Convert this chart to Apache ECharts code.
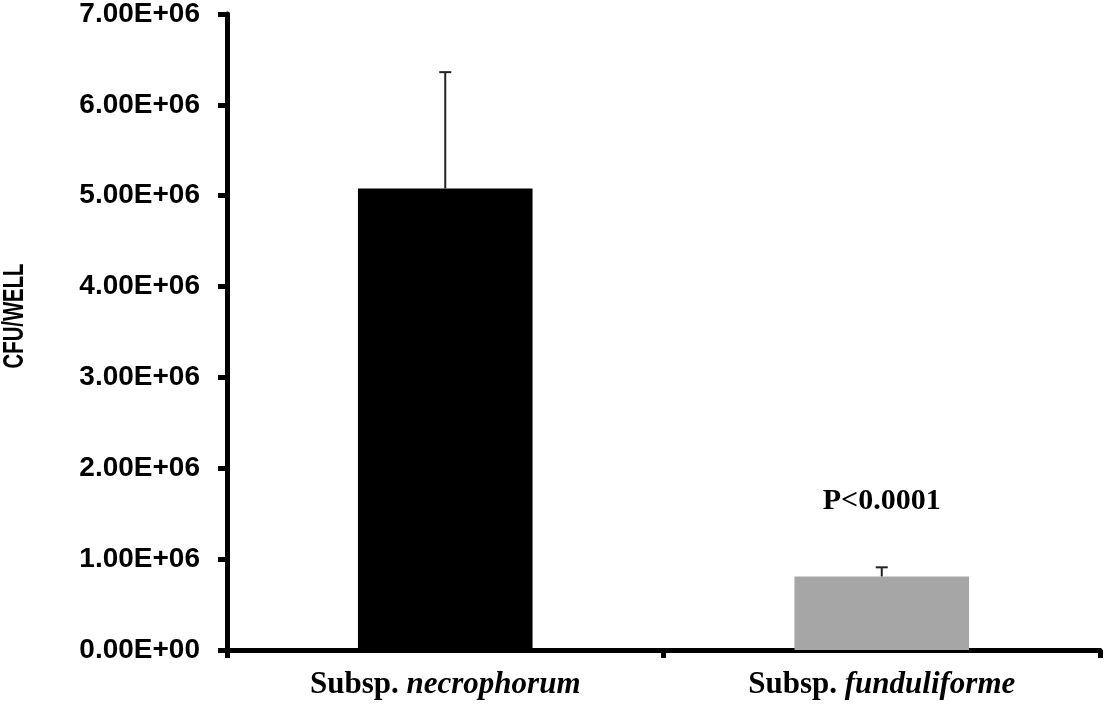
<!DOCTYPE html>
<html>
<head>
<meta charset="utf-8">
<script src="https://cdn.jsdelivr.net/npm/echarts@6/dist/echarts.min.js"></script>
<style>
html,body{margin:0;padding:0;background:#fff;}
#chart{width:1106px;height:708px;}
</style>
</head>
<body>
<div id="chart"></div>
<script>
var categories = ['necrophorum', 'funduliforme'];
var means = [5.08e6, 0.81e6];
var errors = [1.28e6, 0.10e6];
var barColors = ['#000000', '#a6a6a6'];
var pLabel = 'P<0.0001';
var yAxisTitle = 'CFU/WELL';
var yTickLabels = ['0.00E+00','1.00E+06','2.00E+06','3.00E+06','4.00E+06','5.00E+06','6.00E+06','7.00E+06'];

var chart = echarts.init(document.getElementById('chart'), null, {renderer: 'canvas'});

var serif = '"Liberation Serif", "Times New Roman", serif';
var sans = '"Liberation Sans", Arial, sans-serif';

var option = {
  animation: false,
  backgroundColor: '#ffffff',
  grid: {left: 227, right: 6, top: 13, bottom: 58, containLabel: false},
  graphic: [
    {
      type: 'text',
      x: 15, y: 316,
      rotation: Math.PI / 2,
      scaleX: 0.7,
      style: {
        text: yAxisTitle,
        font: 'bold 29px "Liberation Sans", Arial, sans-serif',
        fill: '#000',
        textAlign: 'center',
        textVerticalAlign: 'middle'
      }
    }
  ],
  xAxis: {
    type: 'category',
    data: categories,
    boundaryGap: true,
    axisLine: {show: true, lineStyle: {color: '#000', width: 5}},
    axisTick: {show: true, alignWithLabel: false, length: 8, lineStyle: {color: '#000', width: 5}},
    axisLabel: {
      margin: 19,
      formatter: function (v) { return '{b|Subsp. }{i|' + v + '}'; },
      rich: {
        b: {fontFamily: serif, fontWeight: 'bold', fontSize: 31, color: '#000'},
        i: {fontFamily: serif, fontWeight: 'bold', fontStyle: 'italic', fontSize: 31, color: '#000'}
      }
    },
    splitLine: {show: false}
  },
  yAxis: {
    type: 'value',
    min: 0,
    max: 7e6,
    interval: 1e6,
    axisLine: {show: true, lineStyle: {color: '#000', width: 5}},
    axisTick: {show: true, length: 9, lineStyle: {color: '#000', width: 5}},
    axisLabel: {
      margin: 27,
      fontFamily: sans, fontWeight: 'bold', fontSize: 28, color: '#000',
      formatter: function (v) { return yTickLabels[Math.round(v / 1e6)]; }
    },
    splitLine: {show: false}
  },
  series: [
    {
      type: 'bar',
      barWidth: '40%',
      data: means.map(function (v, i) {
        var item = {value: v, itemStyle: {color: barColors[i]}};
        if (i === 1) {
          item.label = {
            show: true, position: 'top', distance: 60,
            formatter: pLabel,
            fontFamily: serif, fontWeight: 'bold', fontSize: 30, color: '#000'
          };
        }
        return item;
      }),
      z: 2
    },
    {
      type: 'custom',
      z: 3,
      data: means.map(function (v, i) { return [i, v, v + errors[i]]; }),
      renderItem: function (params, api) {
        var x = api.value(0);
        var p0 = api.coord([x, api.value(1)]);
        var p1 = api.coord([x, api.value(2)]);
        var half = 6;
        return {
          type: 'group',
          children: [
            {type: 'line', shape: {x1: p0[0], y1: p0[1], x2: p1[0], y2: p1[1]}, style: {stroke: '#222', lineWidth: 2}},
            {type: 'line', shape: {x1: p1[0] - half, y1: p1[1], x2: p1[0] + half, y2: p1[1]}, style: {stroke: '#222', lineWidth: 2}}
          ]
        };
      }
    }
  ]
};
chart.setOption(option);
</script>
</body>
</html>
